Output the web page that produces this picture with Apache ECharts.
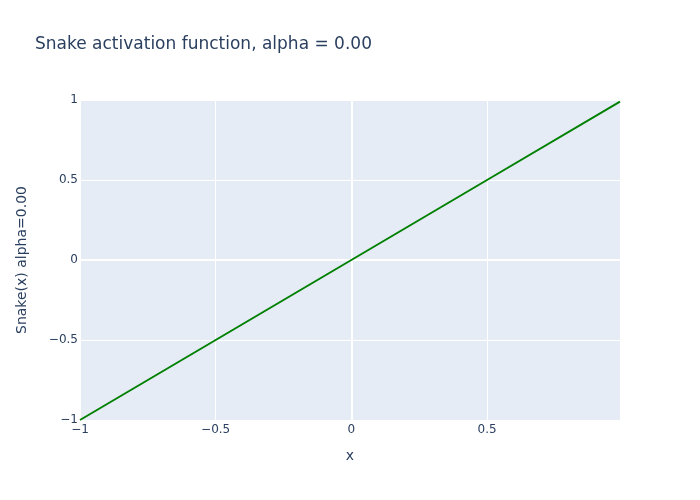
<!DOCTYPE html>
<html><head><meta charset="utf-8">
<script src="https://cdn.jsdelivr.net/npm/echarts@6/dist/echarts.min.js"></script>
<style>html,body{margin:0;padding:0;background:#fff}#c{width:700px;height:500px}</style>
</head><body><div id="c"></div>
<script>
const xValues = [-1, -0.5, 0, 0.5, 0.99];
const yValues = [-1, -0.5, 0, 0.5, 0.99];
const xTicks = [-1, -0.5, 0, 0.5];
const yTicks = [-1, -0.5, 0, 0.5, 1];
const titleText = 'Snake activation function, alpha = 0.00';
const xName = 'x';
const yName = 'Snake(x) alpha=0.00';

const fmt = v => String(v).replace('-', '\u2212');
const font = '"DejaVu Sans", sans-serif';
const chart = echarts.init(document.getElementById('c'));
chart.setOption({
  backgroundColor: '#fff',
  animation: false,
  title: {text: titleText, left: 30, top: 31,
    textStyle: {fontFamily: font, fontSize: 17, fontWeight: 'normal', color: '#2a3f5f'}},
  grid: {left: 80, right: 80, top: 100, bottom: 80, show: true, backgroundColor: '#E5ECF6', borderWidth: 0},
  xAxis: {type: 'value', min: -1, max: 0.99, interval: 0.5,
    name: xName, nameLocation: 'middle', nameGap: 29,
    nameTextStyle: {fontFamily: font, fontSize: 14, color: '#2a3f5f'},
    axisLine: {show: false}, axisTick: {show: false},
    axisLabel: {showMaxLabel: false, formatter: fmt, fontFamily: font, fontSize: 12, color: '#2a3f5f', margin: 4},
    splitLine: {show: true, lineStyle: {color: '#fff', width: 1}}},
  yAxis: {type: 'value', min: -1, max: 1, interval: 0.5,
    name: yName, nameLocation: 'middle', nameGap: 51,
    nameTextStyle: {fontFamily: font, fontSize: 14, color: '#2a3f5f'},
    axisLine: {show: false}, axisTick: {show: false},
    axisLabel: {formatter: fmt, fontFamily: font, fontSize: 12, color: '#2a3f5f', margin: 2},
    splitLine: {show: true, lineStyle: {color: '#fff', width: 1}}},
  series: [
    {type: 'line', data: [], markLine: {silent: true, symbol: 'none', label: {show: false},
      lineStyle: {color: '#fff', width: 2, type: 'solid'},
      data: [{xAxis: 0}, {yAxis: 0}]}},
    {type: 'line', data: xValues.map((x, i) => [x, yValues[i]]), showSymbol: false,
     lineStyle: {color: 'green', width: 2}, zlevel: 1}
  ]
});
</script></body></html>
